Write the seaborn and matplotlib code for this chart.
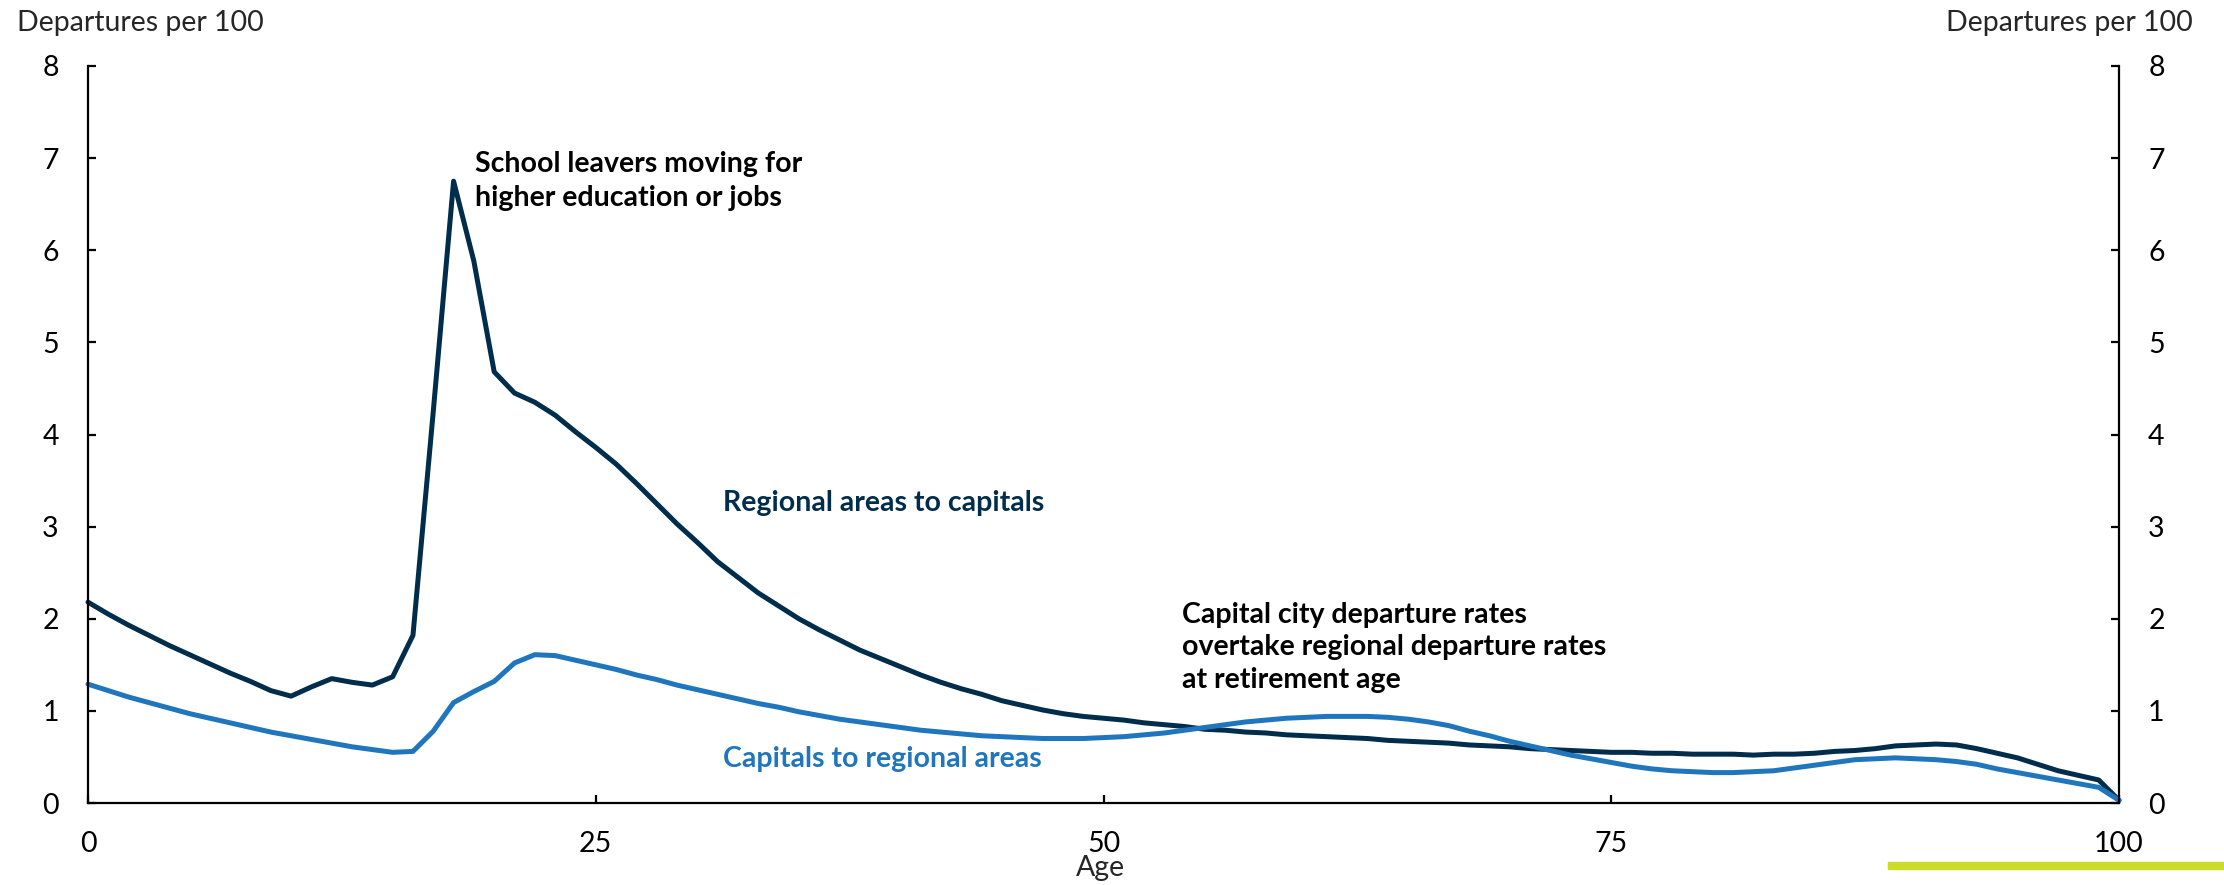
import numpy as np
import pandas as pd
import matplotlib
matplotlib.use("Agg")
import matplotlib.pyplot as plt
import matplotlib.patches as mpatches
import seaborn as sns

# ─────────────────────────────────────────
# DATA (departures per 100 people, by age)
# ─────────────────────────────────────────

ages = list(range(0, 101))

regional_to_capitals = [
    2.18, 2.05, 1.93, 1.82, 1.71, 1.61, 1.51, 1.41, 1.32, 1.22,
    1.16, 1.26, 1.35, 1.31, 1.28, 1.37, 1.82, 4.25, 6.75, 5.88,
    4.68, 4.45, 4.35, 4.21, 4.03, 3.86, 3.68, 3.47, 3.25, 3.03,
    2.83, 2.62, 2.45, 2.28, 2.14, 2.00, 1.88, 1.77, 1.66, 1.57,
    1.48, 1.39, 1.31, 1.24, 1.18, 1.11, 1.06, 1.01, 0.97, 0.94,
    0.92, 0.90, 0.87, 0.85, 0.83, 0.80, 0.79, 0.77, 0.76, 0.74,
    0.73, 0.72, 0.71, 0.70, 0.68, 0.67, 0.66, 0.65, 0.63, 0.62,
    0.61, 0.59, 0.58, 0.57, 0.56, 0.55, 0.55, 0.54, 0.54, 0.53,
    0.53, 0.53, 0.52, 0.53, 0.53, 0.54, 0.56, 0.57, 0.59, 0.62,
    0.63, 0.64, 0.63, 0.59, 0.54, 0.49, 0.42, 0.35, 0.30, 0.25,
    0.03,
]

capitals_to_regional = [
    1.29, 1.22, 1.15, 1.09, 1.03, 0.97, 0.92, 0.87, 0.82, 0.77,
    0.73, 0.69, 0.65, 0.61, 0.58, 0.55, 0.56, 0.78, 1.09, 1.21,
    1.32, 1.52, 1.61, 1.60, 1.55, 1.50, 1.45, 1.39, 1.34, 1.28,
    1.23, 1.18, 1.13, 1.08, 1.04, 0.99, 0.95, 0.91, 0.88, 0.85,
    0.82, 0.79, 0.77, 0.75, 0.73, 0.72, 0.71, 0.70, 0.70, 0.70,
    0.71, 0.72, 0.74, 0.76, 0.79, 0.82, 0.85, 0.88, 0.90, 0.92,
    0.93, 0.94, 0.94, 0.94, 0.93, 0.91, 0.88, 0.84, 0.78, 0.73,
    0.67, 0.62, 0.57, 0.52, 0.48, 0.44, 0.40, 0.37, 0.35, 0.34,
    0.33, 0.33, 0.34, 0.35, 0.38, 0.41, 0.44, 0.47, 0.48, 0.49,
    0.48, 0.47, 0.45, 0.42, 0.37, 0.33, 0.29, 0.25, 0.21, 0.17,
    0.03,
]

x_ticks = [0, 25, 50, 75, 100]
y_ticks = [0, 1, 2, 3, 4, 5, 6, 7, 8]

DARK = "#002D4C"
LIGHT = "#1F76BD"
GREEN = "#CBDB2A"

FS = 20.5  # Calibri-like size, matched by width

# ─────────────────────────────────────────
# STYLE
# ─────────────────────────────────────────

sns.set_theme(style="white")
plt.rcParams.update({
    "font.family": ["Lato", "DejaVu Sans"],
    "font.size": FS,
    "axes.spines.top": False,
    "axes.linewidth": 1.6,
    "axes.edgecolor": "black",
})

W, H = 2224, 885
fig = plt.figure(figsize=(W / 100, H / 100), dpi=100)
ax = fig.add_axes([88 / W, 1 - 803 / H, (2119 - 88) / W, (803 - 66) / H])

df = pd.DataFrame({
    "age": ages,
    "Regional areas to capitals": regional_to_capitals,
    "Capitals to regional areas": capitals_to_regional,
})

sns.lineplot(data=df, x="age", y="Regional areas to capitals", ax=ax,
             color=DARK, linewidth=3.6, clip_on=False)
sns.lineplot(data=df, x="age", y="Capitals to regional areas", ax=ax,
             color=LIGHT, linewidth=3.6, clip_on=False)

ax.set_xlim(0, 100)
ax.set_ylim(0, 8)
ax.set_xticks(x_ticks)
ax.set_yticks(y_ticks)
ax.set_xlabel("")
ax.set_ylabel("")
ax.spines["right"].set_visible(True)
ax.tick_params(axis="y", direction="in", length=6, width=1.6, pad=21,
               left=True, right=True, labelleft=True, labelright=True,
               labelsize=FS, colors="black")
ax.tick_params(axis="x", direction="in", length=6, width=1.6, pad=20,
               bottom=True, labelsize=FS, colors="black")

# Axis titles
fig.text(17 / W, 1 - 23 / H, "Departures per 100", ha="left", va="center",
         fontsize=FS)
fig.text(2193 / W, 1 - 23 / H, "Departures per 100", ha="right", va="center",
         fontsize=FS)
fig.text(1100 / W, 1 - 868 / H, "Age", ha="center", va="center", fontsize=FS)

# Annotations
ax.text(19.05, 6.75, "School leavers moving for\nhigher education or jobs",
        ha="left", va="center", fontsize=FS, fontweight="bold",
        linespacing=1.35, color="black")
ax.text(53.87, 1.69,
        "Capital city departure rates\novertake regional departure rates\nat retirement age",
        ha="left", va="center", fontsize=FS, fontweight="bold",
        linespacing=1.3, color="black")
ax.text(31.27, 3.26, "Regional areas to capitals", ha="left", va="center",
        fontsize=FS, fontweight="bold", color=DARK)
ax.text(31.27, 0.48, "Capitals to regional areas", ha="left", va="center",
        fontsize=FS, fontweight="bold", color=LIGHT)

# Green accent bar, bottom right
fig.patches.append(mpatches.Rectangle((1888 / W, 1 - 869 / H), (W - 1888) / W,
                                      7 / H, transform=fig.transFigure,
                                      color=GREEN, zorder=5))

fig.savefig("out.png", dpi=100)
